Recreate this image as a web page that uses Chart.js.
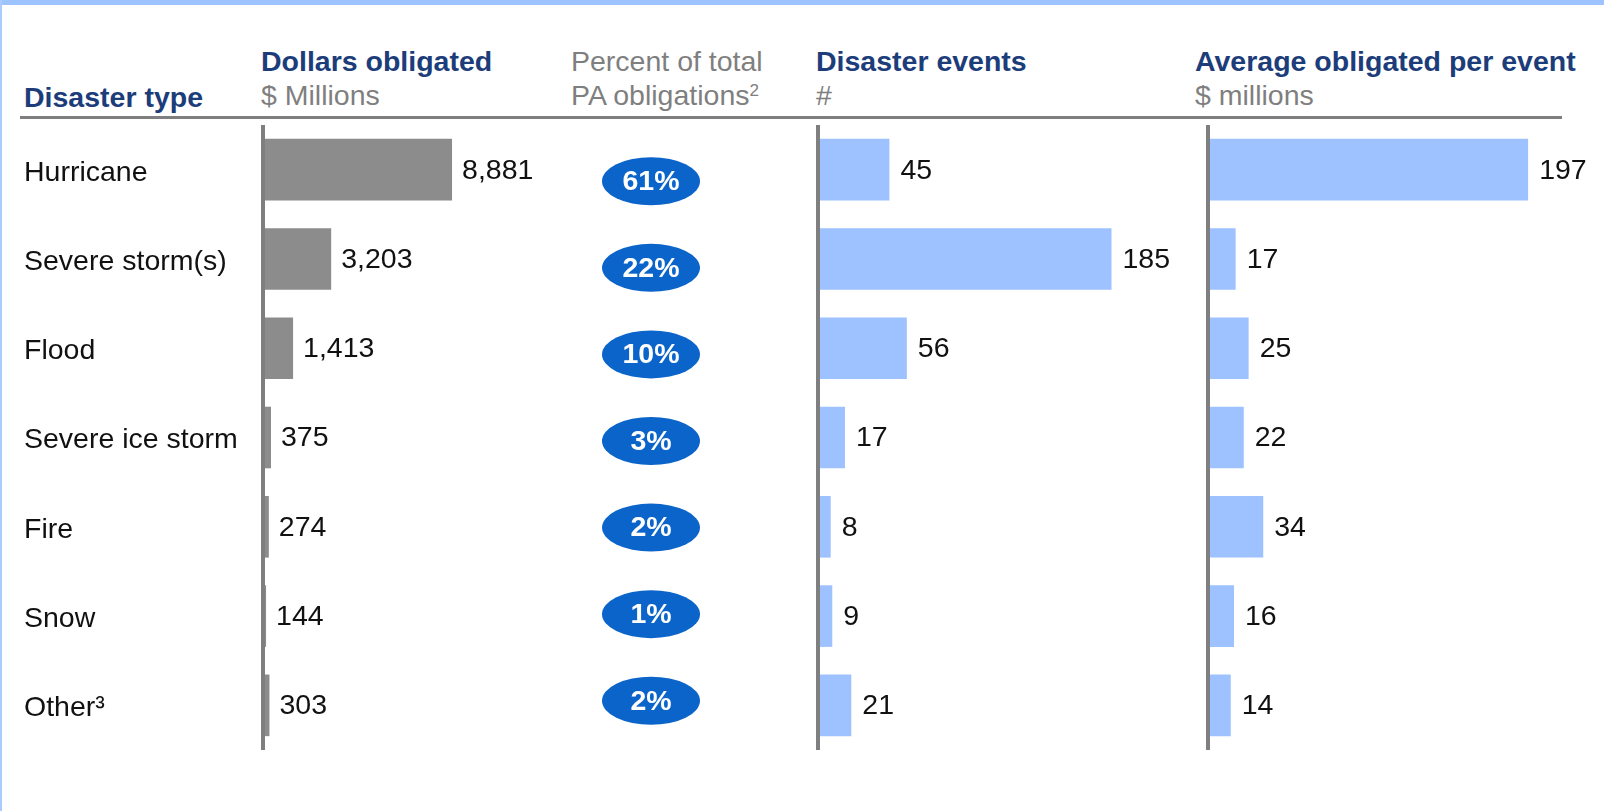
<!DOCTYPE html>
<html>
<head>
<meta charset="utf-8">
<script src="https://cdn.jsdelivr.net/npm/chart.js@4/dist/chart.umd.min.js"></script>
<style>
  body { margin: 0; width: 1604px; height: 811px; overflow: hidden; background: #fff; position: relative;
         font-family: "Liberation Sans", Arial, sans-serif; }
  .banda { position: absolute; left: 0; top: 0; width: 1604px; height: 5px; background: #9ec4ff; }
  .borde { position: absolute; left: 0; top: 0; width: 2px; height: 811px; background: #a9cbff; }
  .txt { position: absolute; font-size: 28.5px; line-height: 34px; white-space: nowrap; }
  .azul { color: #1c3d7a; font-weight: bold; }
  .gris { color: #7f7f7f; }
  .linea { position: absolute; left: 20px; top: 116px; width: 1542px; height: 3px; background: #7f7f7f; }
  canvas { position: absolute; }
  sup { font-size: 60%; vertical-align: 9px; line-height: 0; }
</style>
</head>
<body>
<div class="banda"></div>
<div class="borde"></div>

<div class="txt azul" style="left:24px; top:80px;">Disaster type</div>
<div class="txt azul" style="left:261px; top:44px;">Dollars obligated</div>
<div class="txt gris" style="left:261px; top:78px;">$ Millions</div>
<div class="txt gris" style="left:571px; top:44px;">Percent of total</div>
<div class="txt gris" style="left:571px; top:78px;">PA obligations<sup>2</sup></div>
<div class="txt azul" style="left:816px; top:44px;">Disaster events</div>
<div class="txt gris" style="left:816px; top:78px;">#</div>
<div class="txt azul" style="left:1195px; top:44px;">Average obligated per event</div>
<div class="txt gris" style="left:1195px; top:78px;">$ millions</div>
<div class="linea"></div>

<canvas id="dolares" width="537" height="625" style="left:24px; top:125px;"></canvas>
<canvas id="porcentaje" width="102" height="606" style="left:600px; top:138px;"></canvas>
<canvas id="eventos" width="380" height="625" style="left:814px; top:125px;"></canvas>
<canvas id="promedio" width="394" height="625" style="left:1204px; top:125px;"></canvas>

<script>
const categorias = ["Hurricane", "Severe storm(s)", "Flood", "Severe ice storm", "Fire", "Snow", "Other³"];
const dolares = [8881, 3203, 1413, 375, 274, 144, 303];
const porcentajes = [61, 22, 10, 3, 2, 1, 2];
const eventos = [45, 185, 56, 17, 8, 9, 21];
const promedio = [197, 17, 25, 22, 34, 16, 14];

const fuente = "'Liberation Sans', Arial, sans-serif";
const gris_barra = "#8c8c8c";
const azul_barra = "#9dc2ff";
const gris_eje = "#7f7f7f";

// numeros al final de cada barra
const etiquetas = {
  id: "etiquetas",
  afterDatasetsDraw(chart, args, opts) {
    const ctx = chart.ctx;
    const meta = chart.getDatasetMeta(0);
    const valores = chart.data.datasets[0].data;
    ctx.save();
    ctx.font = "28.5px " + fuente;
    ctx.fillStyle = "#111";
    ctx.textBaseline = "middle";
    meta.data.forEach((barra, i) => {
      ctx.fillText(valores[i].toLocaleString("en-US"), barra.x + opts.separacion, barra.y + 1);
    });
    ctx.restore();
  },
};

// ovalos azules con el porcentaje
const elipses = {
  id: "elipses",
  afterDatasetsDraw(chart) {
    const ctx = chart.ctx;
    const meta = chart.getDatasetMeta(0);
    ctx.save();
    meta.data.forEach((p, i) => {
      ctx.beginPath();
      ctx.ellipse(p.x, p.y, 49, 24, 0, 0, Math.PI * 2);
      ctx.fillStyle = "#0b64c9";
      ctx.fill();
      ctx.fillStyle = "#fff";
      ctx.font = "bold 28.5px " + fuente;
      ctx.textAlign = "center";
      ctx.textBaseline = "middle";
      ctx.fillText(porcentajes[i] + "%", p.x, p.y + 1);
    });
    ctx.restore();
  },
};

function grafico_barras(id, valores, color, maximo, ancho_eje, con_nombres, separacion) {
  return new Chart(document.getElementById(id), {
    type: "bar",
    data: {
      labels: categorias,
      datasets: [
        {
          data: valores,
          backgroundColor: color,
          borderWidth: 0,
          categoryPercentage: 1,
          barPercentage: 0.69,
        },
      ],
    },
    options: {
      indexAxis: "y",
      responsive: false,
      animation: false,
      layout: { padding: 0 },
      plugins: {
        legend: { display: false },
        tooltip: { enabled: false },
        etiquetas: { separacion: separacion },
      },
      scales: {
        x: { display: false, min: 0, max: maximo },
        y: {
          grid: { display: false },
          border: { display: true, color: gris_eje, width: 4, z: 1 },
          ticks: {
            display: con_nombres,
            autoSkip: false,
            crossAlign: "far",
            labelOffset: 3,
            color: "#111",
            font: { size: 28.5, family: fuente },
          },
          afterFit: (scale) => {
            scale.width = ancho_eje;
            scale.paddingTop = 0;
            scale.paddingBottom = 0;
          },
        },
      },
    },
    plugins: [etiquetas],
  });
}

function grafico_porcentaje() {
  return new Chart(document.getElementById("porcentaje"), {
    type: "scatter",
    data: {
      labels: categorias,
      datasets: [
        {
          data: categorias.map((c) => ({ x: 0, y: c })),
          pointRadius: 0,
        },
      ],
    },
    options: {
      responsive: false,
      animation: false,
      layout: { padding: 0 },
      plugins: { legend: { display: false }, tooltip: { enabled: false } },
      scales: {
        x: { type: "linear", display: false, min: -1, max: 1 },
        y: { type: "category", display: false, offset: true },
      },
    },
    plugins: [elipses],
  });
}

grafico_barras("dolares", dolares, gris_barra, 14000, 239, true, 10);
grafico_porcentaje();
grafico_barras("eventos", eventos, azul_barra, 237, 4, false, 11);
grafico_barras("promedio", promedio, azul_barra, 240, 4, false, 11);
</script>
</body>
</html>
